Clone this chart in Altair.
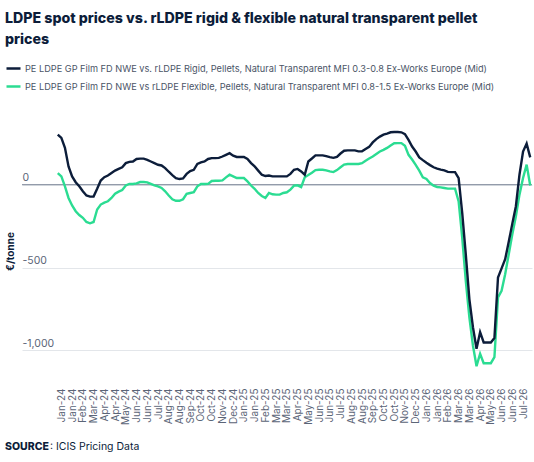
import json
import altair as alt
import pandas as pd

# Week-by-week spread (EUR/tonne), first week of Jan-24 to end of Jul-26
rigid = [
    302, 282, 222, 110, 50, 15, -10, -40, -65, -72,
    -72, -25, 25, 45, 55, 70, 85, 95, 105, 130,
    138, 140, 155, 157, 157, 150, 140, 130, 120, 116,
    100, 78, 58, 40, 34, 38, 65, 82, 90, 125,
    135, 140, 155, 160, 160, 162, 170, 180, 190, 175,
    167, 167, 167, 155, 130, 110, 85, 60, 52, 55,
    50, 50, 50, 50, 50, 65, 90, 95, 80, 60,
    140, 158, 177, 177, 177, 172, 166, 162, 168, 188,
    205, 207, 207, 207, 201, 201, 215, 228, 255, 275,
    290, 302, 308, 316, 318, 318, 316, 305, 270, 230,
    200, 165, 148, 132, 118, 105, 97, 91, 86, 77,
    76, 76, 40, -170, -420, -690, -860, -990, -890, -952,
    -952, -952, -925, -560, -505, -450, -345, -235, -130, 60,
    200, 248, 165,
]
flexible = [
    70, 50, -10, -80, -125, -160, -183, -200, -225, -233,
    -225, -150, -120, -108, -100, -80, -55, -42, -32, -5,
    4, 4, 8, 16, 16, 14, 5, -4, -10, -20,
    -40, -65, -88, -97, -97, -88, -55, -50, -45, -10,
    4, 4, 5, 22, 24, 24, 26, 44, 60, 50,
    40, 40, 40, 20, -5, -25, -50, -68, -80, -50,
    -58, -60, -60, -50, -46, -30, -6, -4, -15, 45,
    58, 72, 88, 90, 90, 86, 80, 76, 88, 105,
    121, 125, 125, 125, 125, 130, 145, 158, 170, 185,
    200, 210, 222, 237, 250, 251, 251, 235, 180, 152,
    120, 85, 45, 35, 10, -6, -14, -16, -20, -24,
    -24, -24, -101, -320, -580, -800, -970, -1095, -1020, -1077,
    -1077, -1077, -1040, -680, -640, -540, -420, -300, -190, -60,
    40, 121, -5,
]

tick_labels = [
    "Jan-24", "Jan-24", "Feb-24", "Mar-24", "Apr-24", "Apr-24", "May-24", "Jun-24",
    "Jun-24", "Jul-24", "Aug-24", "Aug-24", "Sep-24", "Oct-24", "Oct-24", "Nov-24",
    "Dec-24", "Jan-25", "Jan-25", "Feb-25", "Mar-25", "Mar-25", "Apr-25", "May-25",
    "Jun-25", "Jun-25", "Jul-25", "Aug-25", "Aug-25", "Sep-25", "Oct-25", "Oct-25",
    "Nov-25", "Dec-25", "Jan-26", "Jan-26", "Feb-26", "Mar-26", "Mar-26", "Apr-26",
    "May-26", "Jun-26", "Jun-26", "Jul-26",
]
# a label on every third week, starting with the second week
tick_weeks = [1 + 3 * k for k in range(len(tick_labels))]

series_names = [
    "PE LDPE GP Film FD NWE vs. rLDPE Rigid, Pellets, Natural Transparent MFI 0.3-0.8 Ex-Works Europe (Mid)",
    "PE LDPE GP Film FD NWE vs rLDPE Flexible, Pellets, Natural Transparent MFI 0.8-1.5 Ex-Works Europe (Mid)",
]
NAVY = "#0c1d3a"
GREEN = "#2bdc92"
GREY = "#5b6577"

df = pd.concat([
    pd.DataFrame({"week": range(len(rigid)), "value": rigid, "series": series_names[0]}),
    pd.DataFrame({"week": range(len(flexible)), "value": flexible, "series": series_names[1]}),
])

label_expr = json.dumps(tick_labels) + "[round((datum.value - 1) / 3)]"

x_enc = alt.X(
    "week:Q",
    scale=alt.Scale(domain=[-10, 132.5], nice=False, zero=False),
    axis=alt.Axis(
        values=tick_weeks, labelExpr=label_expr, labelAngle=-90, grid=False,
        domain=False, ticks=False, labelPadding=21, labelFontSize=10,
        labelColor=GREY, labelOverlap=False, title=None,
    ),
)
y_enc = alt.Y(
    "value:Q",
    scale=alt.Scale(domain=[-1100, 348], nice=False),
    axis=alt.Axis(
        values=[-1000, -500, 0], grid=True, gridColor="#e3e6ea", domain=False,
        ticks=False, labelAlign="left", labelBaseline="bottom", labelPadding=0,
        labelOffset=-2, labelFontSize=10.5, labelColor=GREY,
        labelExpr="replace(format(datum.value, ','), '\u2212', '-')",
        title="\u20ac/tonne", titleFontSize=10, titleFontWeight="bold",
        titleColor=NAVY, titleX=-12, titleY=124, titleAngle=270,
        titleAlign="center", titleBaseline="middle",
    ),
)
color_enc = alt.Color(
    "series:N",
    scale=alt.Scale(domain=series_names, range=[NAVY, GREEN]),
    legend=alt.Legend(
        title=None, orient="none", legendX=-17, legendY=-67, direction="vertical",
        symbolType="stroke", symbolSize=196, symbolStrokeWidth=2.5,
        labelFontSize=9.2, labelColor="#4a5466", labelOffset=3, rowPadding=4,
        labelLimit=600, padding=0,
    ),
)

zero_rule = alt.Chart(pd.DataFrame({"v": [0]})).mark_rule(
    color="#7d8799", strokeWidth=1
).encode(y=alt.Y("v:Q"))

flex_line = alt.Chart(df[df.series == series_names[1]]).mark_line(
    strokeWidth=2.4
).encode(x=x_enc, y=y_enc, color=color_enc)
rigid_line = alt.Chart(df[df.series == series_names[0]]).mark_line(
    strokeWidth=2.4
).encode(x=x_enc, y=y_enc, color=color_enc)

src = pd.DataFrame({"a": ["SOURCE"], "b": [": ICIS Pricing Data"]})
src_bold = alt.Chart(src).mark_text(
    align="left", baseline="middle", fontSize=10.5, fontWeight=800, color=NAVY
).encode(text="a:N", x=alt.value(-17), y=alt.value(320))
src_rest = alt.Chart(src).mark_text(
    align="left", baseline="middle", fontSize=10.5, color=NAVY
).encode(text="b:N", x=alt.value(28), y=alt.value(320))

chart = alt.layer(zero_rule, flex_line, rigid_line, src_bold, src_rest).properties(
    width=510,
    height=240,
    padding={"left": 22, "top": 127, "right": 2, "bottom": 95},
    autosize=alt.AutoSizeParams(type="none"),
    title=alt.Title(
        ["LDPE spot prices vs. rLDPE rigid & flexible natural transparent pellet", "prices"],
        anchor="start", frame="group", fontSize=14.2, fontWeight=800, color=NAVY,
        lineHeight=21, dx=-17, offset=13,
    ),
).configure(font="Inter").configure_view(stroke=None)

chart.save("out.html", embed_options={"renderer": "svg", "actions": False})
